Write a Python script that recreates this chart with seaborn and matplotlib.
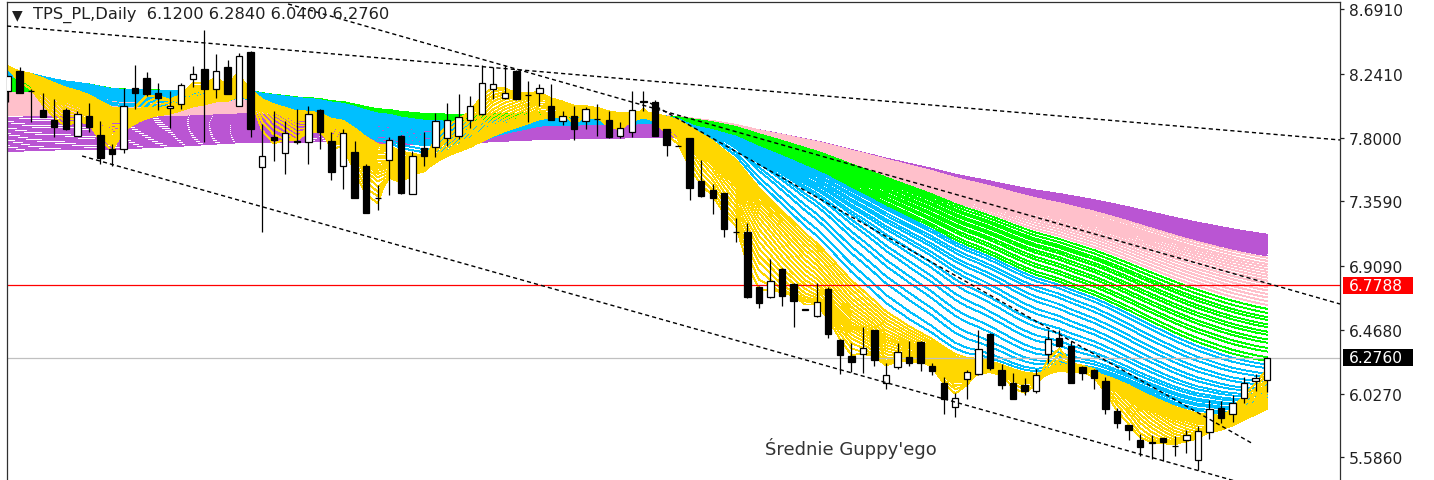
import numpy as np
import pandas as pd
import matplotlib
matplotlib.use("Agg")
import matplotlib.pyplot as plt
import matplotlib.transforms as mtransforms
from matplotlib.patches import Rectangle
import seaborn as sns

# daily candles TPS_PL
opens = [8.124, 8.262, 8.125, 7.993, 7.924, 7.993, 7.814, 7.947, 7.821, 7.724,
         7.722, 8.147, 8.211, 8.112, 8.002, 8.032, 8.209, 8.273, 8.136, 8.291,
         8.021, 8.393, 7.595, 7.807, 7.692, 7.775, 7.768, 7.993, 7.779, 7.607,
         7.699, 7.602, 7.385, 7.646, 7.814, 7.412, 7.726, 7.733, 7.795, 7.814,
         7.924, 7.963, 8.136, 8.078, 8.262, 8.098, 8.112, 8.021, 7.917, 7.947,
         7.917, 7.930, 7.922, 7.814, 7.841, 8.055, 8.048, 7.860, 7.745, 7.798,
         7.499, 7.435, 7.419, 7.148, 7.148, 6.768, 6.695, 6.888, 6.787, 6.610,
         6.562, 6.750, 6.401, 6.286, 6.302, 6.467, 6.103, 6.210, 6.282, 6.383,
         6.222, 6.103, 5.934, 6.130, 6.160, 6.440, 6.194, 6.103, 6.090, 6.044,
         6.304, 6.413, 6.355, 6.212, 6.194, 6.114, 5.907, 5.808, 5.707, 5.690,
         5.717, 5.666, 5.707, 5.569, 5.758, 5.930, 5.884, 5.999, 6.114, 6.120]
highs = [8.230, 8.291, 8.140, 8.112, 8.069, 8.005, 7.986, 8.039, 7.917, 7.759,
         8.147, 8.301, 8.257, 8.177, 8.124, 8.181, 8.296, 8.549, 8.381, 8.335,
         8.388, 8.400, 7.894, 7.986, 7.917, 7.998, 8.021, 8.000, 7.837, 7.862,
         7.779, 7.619, 7.474, 7.807, 7.820, 7.710, 7.837, 7.970, 8.043, 8.105,
         8.089, 8.301, 8.291, 8.301, 8.270, 8.193, 8.170, 8.170, 7.986, 8.021,
         8.009, 8.032, 7.986, 7.905, 8.124, 8.124, 8.062, 7.860, 7.750, 7.800,
         7.646, 7.481, 7.420, 7.247, 7.210, 6.770, 6.957, 6.895, 6.790, 6.612,
         6.792, 6.764, 6.405, 6.378, 6.491, 6.470, 6.240, 6.378, 6.389, 6.390,
         6.242, 6.140, 6.033, 6.194, 6.470, 6.450, 6.230, 6.167, 6.137, 6.201,
         6.466, 6.466, 6.389, 6.220, 6.200, 6.140, 5.930, 5.810, 5.746, 5.739,
         5.720, 5.734, 5.776, 5.803, 5.983, 5.976, 6.015, 6.144, 6.160, 6.284]
lows = [8.045, 8.110, 7.905, 7.940, 7.802, 7.855, 7.810, 7.836, 7.619, 7.607,
        7.692, 7.998, 8.090, 7.991, 7.867, 7.998, 8.153, 7.768, 8.078, 8.100,
        8.020, 7.802, 7.147, 7.641, 7.550, 7.757, 7.619, 7.722, 7.504, 7.446,
        7.380, 7.275, 7.297, 7.400, 7.410, 7.410, 7.607, 7.664, 7.745, 7.790,
        7.864, 7.957, 8.067, 8.070, 8.060, 7.905, 8.021, 7.920, 7.888, 7.786,
        7.860, 7.814, 7.800, 7.795, 7.802, 7.986, 7.810, 7.676, 7.740, 7.366,
        7.390, 7.274, 7.113, 7.078, 6.690, 6.619, 6.690, 6.635, 6.489, 6.605,
        6.560, 6.413, 6.160, 6.176, 6.167, 6.217, 6.061, 6.200, 6.217, 6.183,
        6.153, 5.884, 5.868, 5.992, 6.155, 6.194, 6.056, 5.990, 6.021, 6.029,
        6.240, 6.350, 6.100, 6.120, 6.061, 5.884, 5.792, 5.707, 5.597, 5.574,
        5.562, 5.597, 5.615, 5.501, 5.712, 5.822, 5.831, 5.965, 6.044, 6.040]
closes = [8.227, 8.112, 8.120, 7.945, 7.876, 7.860, 7.963, 7.871, 7.660, 7.688,
          8.021, 8.108, 8.101, 8.078, 8.021, 8.163, 8.239, 8.136, 8.262, 8.101,
          8.365, 7.860, 7.671, 7.784, 7.832, 7.770, 7.967, 7.837, 7.561, 7.832,
          7.382, 7.278, 7.380, 7.786, 7.419, 7.676, 7.671, 7.917, 7.922, 7.940,
          8.021, 8.181, 8.170, 8.112, 8.067, 8.095, 8.147, 7.922, 7.947, 7.860,
          7.998, 7.928, 7.802, 7.867, 7.993, 8.050, 7.814, 7.750, 7.740, 7.451,
          7.395, 7.382, 7.164, 7.145, 6.695, 6.658, 6.810, 6.704, 6.670, 6.608,
          6.661, 6.442, 6.298, 6.244, 6.344, 6.263, 6.153, 6.316, 6.236, 6.240,
          6.183, 5.992, 5.999, 6.176, 6.337, 6.206, 6.090, 5.992, 6.044, 6.153,
          6.406, 6.360, 6.103, 6.171, 6.137, 5.923, 5.822, 5.776, 5.655, 5.688,
          5.689, 5.663, 5.739, 5.769, 5.923, 5.861, 5.965, 6.103, 6.137, 6.276]

price_ticks = [8.6910, 8.2410, 7.8000, 7.3590, 6.9090, 6.4680, 6.0270, 5.5860]
red_level = 6.7788
last_close = 6.2760

# dashed trend lines: (bar, price) end points
trend_bars = [[-0.09, 115.3], [24.24, 115.3], [55.58, 107.8], [6.41, 108.0]]
trend_prices = [[8.573, 7.784], [8.726, 6.648], [8.040, 5.678], [7.673, 5.382]]

# Guppy ribbon groups: weighted MA periods and the level at the left edge
group_order = ["purple", "pink", "green", "blue", "yellow"]
group_colors = {"yellow": "#FFD700", "blue": "#00BFFF", "green": "#00FF00",
                "pink": "#FFC0CB", "purple": "#BA55D3"}
group_periods = {"yellow": [3, 4, 5, 6, 7, 8, 9, 10, 11, 12, 13, 14, 15, 16,
                            17, 18, 19, 20, 21],
                 "blue": [23, 25, 28, 30, 33, 35, 38, 40, 43, 45, 48, 50, 53,
                          55, 58, 60, 63, 65],
                 "green": [67, 69, 72, 74, 77, 79, 82, 84, 87, 89, 92, 94, 97,
                           100],
                 "pink": [103, 106, 109, 112, 115, 118, 121, 124, 127, 130,
                          133, 136, 139, 142, 146, 150],
                 "purple": [153, 156, 159, 162, 165, 168, 171, 174, 177, 180,
                            183, 186, 189, 192, 196, 200]}
group_start = {"yellow": (8.33, 8.27), "blue": (8.27, 8.22), "green": (8.22, 8.12),
               "pink": (8.11, 7.95), "purple": (7.95, 7.70)}

rows = []
palette = {}
hue_order = []
c_arr = np.array(closes)
for g in group_order:
    periods = group_periods[g]
    starts = np.linspace(*group_start[g], len(periods))
    for k, (n, s) in enumerate(zip(periods, starts)):
        name = f"{g}_{k}"
        palette[name] = group_colors[g]
        hue_order.append(name)
        # linear weighted MA, bars before the chart held at the start level
        padded = np.concatenate([np.full(n - 1, s), c_arr])
        w = np.arange(1, n + 1, dtype=float)
        lwma = np.convolve(padded, w[::-1], mode="valid") / w.sum()
        for i, v in enumerate(lwma):
            rows.append((name, i, v))
ma = pd.DataFrame(rows, columns=["line", "bar", "ma"])

sns.set_style("white")
plt.rcParams['font.family'] = ['DejaVu Sans']

W, H = 1434, 481
fig = plt.figure(figsize=(W / 100, H / 100), dpi=100)
ax = fig.add_axes([7 / W, 0, 1333 / W, 478.5 / H])

sns.lineplot(data=ma, x="bar", y="ma", hue="line", hue_order=hue_order,
             palette=palette, estimator=None, sort=False, legend=False,
             linewidth=0.62, antialiased=False, ax=ax, zorder=1)

ax.axhline(red_level, color="#FF0000", lw=0.9, zorder=2)
ax.axhline(last_close, color="#C0C0C0", lw=0.9, zorder=2)

o = np.array(opens)
x = np.arange(len(c_arr))
up = c_arr >= o
ax.vlines(x, lows, highs, color="black", lw=0.9, zorder=3)
ax.bar(x, np.maximum(np.abs(c_arr - o), 0.003), bottom=np.minimum(o, c_arr),
       width=0.55, color=np.where(up, "white", "black"), edgecolor="black",
       linewidth=0.9, zorder=4)

for bx, py in zip(trend_bars, trend_prices):
    ax.plot(bx, py, color="black", lw=1.0, linestyle=(0, (3, 2.2)), zorder=5)

ax.set_xlim(-0.09, 115.3)
ax.set_ylim(5.429, 8.743)
ax.set_xticks([])
ax.set_xlabel("")
ax.set_ylabel("")
ax.yaxis.tick_right()
ax.set_yticks(price_ticks)
ax.set_yticklabels([f"{v:.4f}" for v in price_ticks])
ax.tick_params(axis="y", direction="out", length=3, width=0.9, pad=3.5,
               labelsize=11.2, colors="#202020", right=True)
for side in ["left", "top", "right"]:
    ax.spines[side].set_color("#303030")
    ax.spines[side].set_linewidth(0.9)
ax.spines["bottom"].set_visible(False)

# price tags on the scale
tr = mtransforms.blended_transform_factory(fig.transFigure, ax.transData)
box_h = 17 * (8.743 - 5.429) / 478.5
for val, bg in [(red_level, "#FF0000"), (last_close, "#000000")]:
    ax.add_patch(Rectangle((1343 / W, val - box_h / 2), 70 / W, box_h,
                           transform=tr, facecolor=bg, edgecolor="none",
                           clip_on=False, zorder=6))
    ax.text(1349 / W, val, f"{val:.4f}", transform=tr, color="white",
            fontsize=11.2, va="center", ha="left", zorder=7, clip_on=False)

fig.text(12 / W, 1 - 15 / H, "▼", fontsize=10, color="#202020", va="center")
fig.text(33 / W, 1 - 15 / H, "TPS_PL,Daily  6.1200 6.2840 6.0400 6.2760",
         fontsize=11.7, color="#202020", va="center")
fig.text(851 / W, 1 - 449 / H, "Średnie Guppy'ego", fontsize=13,
         color="#333333", va="center", ha="center")

plt.savefig("out.png", dpi=100)
plt.close()
